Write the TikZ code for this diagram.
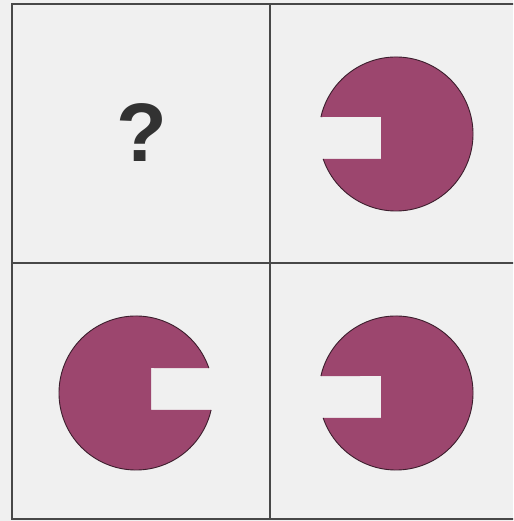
\documentclass[tikz,border=0pt]{standalone}
\usepackage{fontspec}
\setmainfont{Liberation Sans}
\usetikzlibrary{positioning}
\definecolor{paper}{RGB}{240,240,240}
\definecolor{gridline}{RGB}{72,72,72}
\definecolor{plum}{RGB}{156,70,110}
\definecolor{plumedge}{RGB}{60,30,45}
\definecolor{ink}{RGB}{50,50,50}

% disc with a square notch, opening to the right before rotation
\newcommand{\notchdisc}[2]{%
  \begin{scope}[shift={(#1)}, rotate=#2]
    \fill[plum] (18.9:77) arc[start angle=18.9, end angle=347.25, radius=77]
      -- (15,-17) -- (15,25) -- cycle;
    \draw[discedge] (18.9:77) arc[start angle=18.9, end angle=347.25, radius=77];
  \end{scope}}

\begin{document}
\begin{tikzpicture}[
        x=1pt, y=1pt,
        gridrule/.style={draw=gridline, line width=2.2pt},
        discedge/.style={draw=plumedge, line width=0.9pt},
        qstyle/.style={text=ink, font=\fontsize{83}{83}\selectfont\bfseries, inner sep=0pt}
    ]
    \fill[paper] (0,0) rectangle (513,521);
    \useasboundingbox (0,0) rectangle (513,521);
    % grid
    \coordinate (tl) at (12,517);
    \coordinate (br) at (530,2);
    \coordinate (mid) at (270,258);
    \begin{scope}
    \clip (0,0) rectangle (513,521);
    \draw[gridrule] (tl) rectangle (br);
    \draw[gridrule] (mid |- tl) -- (mid |- br);
    \draw[gridrule] (mid -| tl) -- (mid -| br);
    \end{scope}
    % cells
    \node[qstyle] (qmark) at (142,388) {?};
    \notchdisc{396,387}{180}
    \notchdisc{136,128}{0}
    \notchdisc{396,128}{180}
\end{tikzpicture}
\end{document}
